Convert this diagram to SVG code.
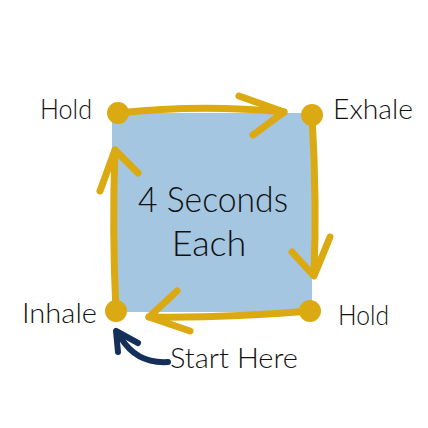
<svg xmlns="http://www.w3.org/2000/svg" width="428" height="428" viewBox="0 0 428 428">
<style>
.y{fill:none;stroke:#dba912;stroke-width:7;stroke-linecap:round;stroke-linejoin:round}
.dot{fill:#dba912}
.t{font-family:Lato,"Open Sans",sans-serif;font-weight:300;fill:#111111}
</style>
<rect width="428" height="428" fill="#ffffff"/>
<rect x="112" y="113" width="200" height="199" fill="#a4c6e1"/>
<g id="connectors">
<path class="y" d="M118,113 Q200,104 284,112"/>
<path class="y" d="M239,96 L284,112 L253,135"/>
<path class="y" d="M312,116 Q317,200 314,275"/>
<path class="y" d="M292,252 L314,276 L330,237"/>
<path class="y" d="M310,311 Q230,318 149,317"/>
<path class="y" d="M177,291 L149,317 L190,331"/>
<path class="y" d="M116,311 Q112,230 115,150"/>
<path class="y" d="M100,191 L115,150 L138,173"/>
<path fill="none" stroke="#14305a" stroke-width="6" stroke-linecap="round" d="M168,362 Q137,364 121,338"/>
<path fill="none" stroke="#14305a" stroke-width="6" stroke-linecap="round" stroke-linejoin="round" d="M138,343 L116,331 L118,352"/>
</g>
<g id="node-hold-top"><circle class="dot" cx="118" cy="113" r="11"/><text class="t" x="40" y="119" font-size="28" textLength="52" lengthAdjust="spacingAndGlyphs">Hold</text></g>
<g id="node-exhale"><circle class="dot" cx="312" cy="115" r="11"/><text class="t" x="333" y="119" font-size="28" textLength="80" lengthAdjust="spacingAndGlyphs">Exhale</text></g>
<g id="node-hold-bottom"><circle class="dot" cx="310" cy="311" r="11"/><text class="t" x="338" y="325" font-size="28" textLength="51" lengthAdjust="spacingAndGlyphs">Hold</text></g>
<g id="node-inhale"><circle class="dot" cx="116" cy="311" r="11"/><text class="t" x="22" y="323" font-size="28" textLength="75" lengthAdjust="spacingAndGlyphs">Inhale</text></g>
<g id="center"><text class="t" x="213" y="212" font-size="36" text-anchor="middle" textLength="150" lengthAdjust="spacingAndGlyphs">4 Seconds</text><text class="t" x="209" y="256" font-size="36" text-anchor="middle">Each</text></g>
<g id="start"><text class="t" x="170" y="368" font-size="28" textLength="128" lengthAdjust="spacingAndGlyphs">Start Here</text></g>
</svg>
